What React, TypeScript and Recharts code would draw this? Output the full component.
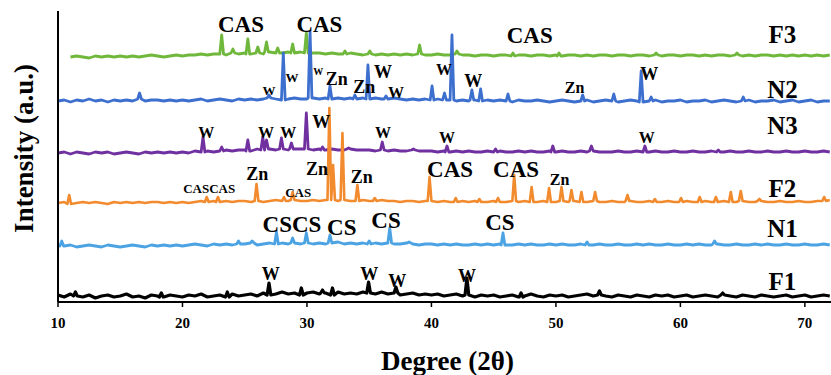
import { LineChart, Line, XAxis, YAxis, ReferenceDot } from "recharts";

const FONT = "Liberation Serif, Tinos, DejaVu Serif, serif";
const STEP = 0.5;
const FOOT = 0.15;

// one trace per sample, bottom to top
const names = ["F1", "N1", "F2", "N3", "N2", "F3"];
const colors = ["#000000", "#4ba3e3", "#f28a2e", "#7030a0", "#3d6fcf", "#70b83c"];
const widths = [3.2, 2.8, 2.6, 2.8, 2.8, 2.8];
const offsets = [6, 56, 99, 149, 201, 245];
const starts = [10, 10, 10, 10, 10, 11];

const xTicks = [10, 20, 30, 40, 50, 60, 70];

// background, every 0.5 degree
const f1Base = [
  1, -1, 2, 0, -1, 1, -2, 0, 1, -1,
  0, 2, -1, 0, -2, 1, 0, -1, 1, 0,
  -1, 1, 0, 2, -1, 0, 1, -1, 2, 0,
  1, 2, 0, 3, 1, 2, 4, 2, 3, 1,
  3, 4, 2, 3, 1, 4, 2, 3, 2, 4,
  3, 2, 4, 2, 3, 1, 2, 3, 1, 2,
  1, 2, 0, 1, 2, 0, 1, -1, 1, 0,
  1, -1, 0, 1, -1, 0, 2, 0, -1, 1,
  0, 1, -1, 0, 1, 2, 0, 1, 0, -1,
  1, 0, -1, 1, 0, -1, 1, 0, 1, -1,
  0, 1, -1, 0, 1, 0, -1, 1, 0, -1,
  1, 0, -1, 1, 0, -1, 0, 1, -1, 0,
  1, -1, 0, 1, 0,
];
const n1Base = [
  1, 0, 1, -1, 0, 1, 0, -1, 1, 0,
  -1, 0, 1, 0, -1, 1, 0, 1, 0, 1,
  0, 1, 2, 1, 0, 2, 1, 2, 1, 2,
  2, 3, 1, 2, 3, 2, 3, 2, 3, 2,
  3, 2, 3, 2, 3, 4, 2, 3, 2, 3,
  2, 3, 2, 3, 2, 2, 3, 2, 1, 2,
  2, 1, 2, 1, 2, 1, 1, 2, 1, 2,
  1, 2, 1, 1, 2, 1, 2, 1, 1, 2,
  1, 2, 1, 1, 2, 1, 1, 2, 1, 1,
  2, 1, 1, 2, 1, 2, 1, 1, 2, 1,
  1, 2, 1, 2, 1, 1, 2, 1, 1, 2,
  1, 1, 2, 1, 2, 1, 1, 2, 1, 1,
  2, 1, 1, 2, 1,
];
const f2Base = [
  0, 1, -1, 0, 1, 0, 1, 0, -1, 1,
  0, 1, 0, 1, 0, 1, 1, 0, 1, 0,
  1, 0, 1, 2, 1, 2, 1, 2, 1, 2,
  2, 1, 2, 1, 2, 3, 2, 2, 3, 2,
  2, 3, 2, 3, 3, 2, 3, 2, 2, 3,
  2, 2, 3, 2, 2, 1, 2, 2, 1, 2,
  2, 1, 2, 1, 1, 2, 1, 2, 1, 1,
  2, 1, 1, 2, 1, 2, 1, 1, 2, 1,
  1, 2, 1, 2, 1, 1, 2, 1, 1, 2,
  1, 1, 2, 1, 1, 2, 1, 1, 2, 1,
  1, 2, 1, 1, 2, 1, 1, 2, 1, 1,
  2, 1, 1, 2, 1, 1, 2, 1, 1, 2,
  1, 1, 2, 2, 3,
];
const n3Base = [
  0, 1, -1, 1, 0, -1, 1, 0, 1, -1,
  0, 1, 0, -1, 1, 0, 1, 0, 1, 0,
  1, 0, 2, 1, 2, 1, 2, 3, 2, 3,
  3, 2, 4, 3, 4, 3, 4, 3, 4, 4,
  4, 3, 4, 3, 4, 3, 3, 4, 3, 3,
  3, 2, 3, 2, 3, 2, 2, 3, 2, 2,
  2, 1, 2, 1, 2, 1, 2, 1, 1, 2,
  1, 2, 1, 1, 2, 1, 2, 1, 1, 2,
  1, 2, 1, 1, 2, 1, 2, 1, 1, 1,
  2, 1, 1, 2, 1, 1, 2, 1, 1, 2,
  1, 1, 2, 1, 1, 2, 1, 1, 2, 1,
  1, 2, 1, 1, 2, 1, 1, 2, 1, 1,
  2, 1, 1, 2, 1,
];
const n2Base = [
  0, 1, -1, 1, 0, 2, 0, 1, -1, 1,
  0, 1, 0, 2, 0, 1, 1, 0, 1, 0,
  1, 0, 1, 2, 0, 1, 2, 1, 0, 2,
  1, 2, 1, 2, 3, 2, 1, 2, 3, 2,
  2, 3, 2, 3, 2, 3, 2, 3, 2, 3,
  2, 3, 2, 2, 3, 2, 1, 2, 1, 2,
  1, 2, 1, 1, 0, 1, 0, 1, 0, 1,
  0, 1, 0, -1, 1, 0, 0, 1, 0, -1,
  0, 1, 0, -1, 0, 1, -1, 0, 1, 0,
  -1, 0, 1, 0, -1, 0, 1, -1, 0, 0,
  1, -1, 0, 0, 1, -1, 0, 1, 0, -1,
  0, 1, -1, 0, 0, 1, -1, 0, 1, -1,
  0, 1, -1, 0, 0,
];
// F3 starts at 11 degrees
const f3Base = [
  0, 1, 0, -1, 1, 0, 1, 0, 1, 0,
  1, 0, 1, 2, 1, 0, 1, 2, 1, 2,
  2, 3, 2, 3, 3, 2, 4, 3, 4, 3,
  4, 3, 5, 4, 4, 5, 4, 5, 4, 4,
  4, 3, 4, 3, 3, 4, 3, 2, 3, 2,
  3, 2, 3, 2, 3, 2, 3, 2, 2, 3,
  2, 2, 3, 2, 2, 1, 2, 2, 1, 2,
  2, 1, 2, 2, 1, 2, 2, 1, 2, 1,
  2, 2, 1, 2, 1, 2, 2, 1, 2, 2,
  1, 2, 2, 1, 2, 1, 2, 2, 1, 2,
  2, 1, 2, 1, 2, 2, 1, 2, 1, 2,
  1, 2, 2, 1, 2, 1, 2, 1, 2, 1,
  2, 1, 2,
];

// peaks: [2theta, height]
const f1Peaks = [
  [11.4, 4], [18.3, 3], [23.6, 4], [26.95, 13], [29.55, 8], [31.25, 6], [32.05, 8],
  [34.95, 14], [37.15, 9], [42.85, 18], [47.2, 3], [53.5, 5], [63.4, 3],
];
const n1Peaks = [
  [10.3, 5], [24.5, 5], [25.6, 5], [27.55, 14], [28.85, 8], [29.95, 13], [31.85, 11],
  [35.0, 5], [36.65, 18], [38.2, 4], [45.75, 13], [52.5, 4], [62.75, 5],
];
const f2Peaks = [
  [10.9, 8], [21.95, 6], [22.85, 6], [25.95, 19], [28.15, 6], [28.85, 11], [31.8, 95],
  [32.1, 38], [32.85, 70], [34.05, 18], [35.45, 5], [39.85, 26], [41.95, 5], [43.85, 4],
  [45.35, 5], [46.65, 28], [48.05, 16], [49.45, 15], [50.45, 16], [51.25, 13],
  [52.05, 11], [53.15, 11], [55.75, 8], [57.95, 4], [60.05, 5], [61.55, 6], [62.85, 6],
  [64.05, 11], [64.85, 12], [66.35, 4], [71.55, 6],
];
const n3Peaks = [
  [21.65, 16], [23.15, 6], [25.25, 13], [26.45, 16], [26.75, 13], [27.95, 15], [28.75, 10],
  [29.95, 40], [31.25, 6], [33.35, 5], [36.05, 11], [38.55, 4], [41.25, 7], [45.15, 4],
  [49.75, 7], [52.85, 7], [57.15, 7], [63.05, 3],
];
const n2Peaks = [
  [16.55, 8], [26.95, 6], [28.1, 48], [30.25, 69], [31.85, 15], [33.85, 6], [34.9, 36],
  [36.35, 5], [40.05, 15], [41.05, 8], [41.65, 66], [43.25, 11], [43.95, 12], [46.15, 7],
  [52.15, 6], [54.65, 7], [56.85, 30], [57.65, 4], [65.05, 4],
];
const f3Peaks = [
  [23.15, 22], [24.05, 8], [25.25, 18], [26.05, 10], [26.75, 15], [27.65, 9], [28.85, 13],
  [29.95, 24], [33.05, 6], [35.05, 6], [39.05, 12], [42.05, 6], [46.55, 4], [50.25, 4],
  [58.05, 4], [64.55, 4],
];

const bases = [f1Base, n1Base, f2Base, n3Base, n2Base, f3Base];
const peaks = [f1Peaks, n1Peaks, f2Peaks, n3Peaks, n2Peaks, f3Peaks];

// peak labels: [text, 2theta, height, size class]
const peakLabels: [string, number, number, string][] = [
  ["CAS", 24.7, 270, "L"], ["CAS", 31.0, 270, "L"], ["CAS", 47.9, 259, "L"],
  ["W", 26.95, 207, "XS"], ["W", 28.8, 220, "XS"], ["W", 30.9, 227, "XXS"],
  ["Zn", 32.4, 217, "M"], ["Zn", 34.6, 209, "M"], ["W", 36.1, 224, "M"],
  ["W", 37.15, 204, "S"], ["W", 41.0, 227, "S"], ["W", 43.35, 215, "M"],
  ["Zn", 51.5, 209, "S"], ["W", 57.5, 222, "M"],
  ["W", 21.9, 164, "S"], ["W", 26.7, 164, "S"], ["W", 28.5, 164, "S"],
  ["W", 31.15, 174, "M"], ["W", 36.1, 164, "S"], ["W", 41.25, 159, "S"], ["W", 57.3, 159, "S"],
  ["CASCAS", 22.15, 109, "XS"], ["Zn", 26.0, 122, "M"], ["CAS", 29.3, 105, "XS"],
  ["Zn", 30.8, 127, "M"], ["Zn", 34.4, 119, "M"], ["CAS", 41.5, 125, "L"],
  ["CAS", 46.8, 125, "L"], ["Zn", 50.3, 117, "S"],
  ["CSCS", 28.8, 70, "L"], ["CS", 32.8, 67, "L"], ["CS", 36.35, 74, "L"], ["CS", 45.5, 72, "L"],
  ["W", 27.1, 22, "M"], ["W", 35.0, 22, "M"], ["W", 37.25, 15, "M"], ["W", 42.85, 20, "M"],
];
const nameX = 68.2;
const nameLevels = [12, 65, 105, 168, 204, 259];

const SIZES: Record<string, number> = { N: 25, L: 23, M: 18, S: 16, XS: 13, XXS: 10 };

function buildTrace(k: number) {
  const base = bases[k];
  const pk = peaks[k];
  const start = starts[k];
  const off = offsets[k];
  const pts: { x: number; y: number }[] = [];
  base.forEach((v, i) => {
    const x = start + i * STEP;
    if (pk.some(([p]) => Math.abs(p - x) < FOOT)) return;
    pts.push({ x, y: v + off });
  });
  pk.forEach(([p, h]) => {
    const i = Math.min(base.length - 1, Math.max(0, Math.round((p - start) / STEP)));
    const b = base[i] + off;
    pts.push({ x: p - FOOT, y: b }, { x: p, y: h + off }, { x: p + FOOT, y: b });
  });
  return pts.sort((a, b) => a.x - b.x);
}

const traces = names.map((_, k) => buildTrace(k));
const drawOrder = [5, 4, 3, 2, 1, 0];

const textStyle = { fontFamily: FONT, fontWeight: 700 };

const textLabel = (text: string, size: number) => (p: any) => {
  const vb = p.viewBox ?? p;
  const x = vb.x + (vb.width || 0) / 2;
  const y = vb.y + (vb.height || 0) / 2;
  return (
    <text x={x} y={y} textAnchor="middle" fill="#000" style={{ ...textStyle, fontSize: size }}>
      {text}
    </text>
  );
};

export default function App() {
  return (
    <div style={{ width: 831, height: 375, background: "#fff", fontFamily: FONT }}>
      <style>{`body{margin:0}`}</style>
      <LineChart width={831} height={375} margin={{ top: 11, right: 0, bottom: 0, left: 0 }}>
        <XAxis
          type="number"
          dataKey="x"
          domain={[10, 72.1]}
          ticks={xTicks}
          allowDataOverflow
          height={73}
          axisLine={{ stroke: "#000", strokeWidth: 2 }}
          tickLine={{ stroke: "#000", strokeWidth: 1.5 }}
          tickSize={5}
          tickMargin={10}
          tick={{ fill: "#000", fontSize: 15, fontWeight: 700, fontFamily: FONT, style: textStyle }}
          label={(p: any) => {
            const vb = p.viewBox ?? p;
            return (
              <text x={vb.x + vb.width / 2 + 3} y={vb.y + 68} textAnchor="middle" fill="#000" style={{ ...textStyle, fontSize: 27 }}>
                Degree (2θ)
              </text>
            );
          }}
        />
        <YAxis
          type="number"
          dataKey="y"
          domain={[0, 291]}
          allowDataOverflow
          width={58}
          tick={false}
          tickLine={false}
          axisLine={{ stroke: "#000", strokeWidth: 2 }}
          label={(p: any) => {
            const vb = p.viewBox ?? p;
            const cy = vb.y + vb.height / 2 - 8;
            return (
              <text x={33} y={cy} transform={`rotate(-90 33 ${cy})`} textAnchor="middle" fill="#000" style={{ ...textStyle, fontSize: 27 }}>
                Intensity (a.u.)
              </text>
            );
          }}
        />
        {drawOrder.map((k) => (
          <Line
            key={names[k]}
            data={traces[k]}
            dataKey="y"
            name={names[k]}
            type="linear"
            stroke={colors[k]}
            strokeWidth={widths[k]}
            strokeLinejoin="round"
            dot={false}
            isAnimationActive={false}
          />
        ))}
        {peakLabels.map(([t, x, y, s], i) => (
          <ReferenceDot key={`pl${i}`} x={x} y={y} r={0} fill="none" stroke="none" label={textLabel(t, SIZES[s])} />
        ))}
        {names.map((n, k) => (
          <ReferenceDot key={`nm${n}`} x={nameX} y={nameLevels[k]} r={0} fill="none" stroke="none" label={textLabel(n, SIZES.N)} />
        ))}
      </LineChart>
    </div>
  );
}
